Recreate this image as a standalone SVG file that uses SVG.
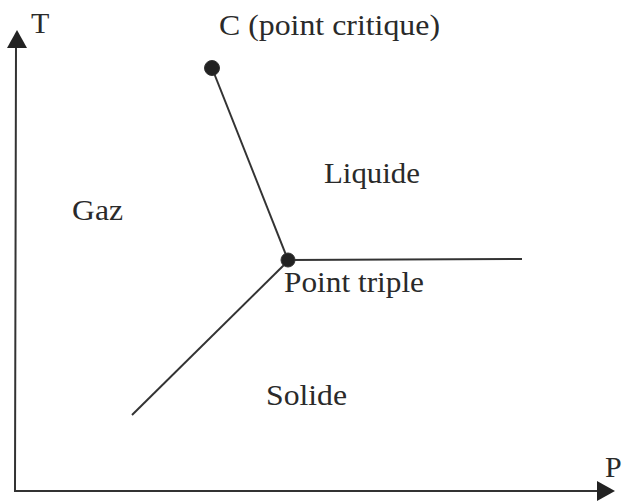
<svg xmlns="http://www.w3.org/2000/svg" width="624" height="502" viewBox="0 0 624 502">
<style>
text{font-family:"Liberation Serif","Times New Roman",serif;font-size:30px;fill:#2a2a2a}
.ln{stroke:#333;stroke-width:2;fill:none}
.ax{stroke:#333;stroke-width:2;fill:none}
.dot{fill:#222;stroke:#333;stroke-width:1}
.ah{fill:#222}
</style>
<rect width="624" height="502" fill="#fff"/>
<g id="axes">
<path class="ax" d="M16,46 L15,491 L598,491"/>
<polygon class="ah" points="17,30 27,48 7,48"/>
<polygon class="ah" points="615,491 597,481 597,501"/>
<text x="31" y="33" font-size="28">T</text>
<text x="605" y="477">P</text>
</g>
<g id="connectors">
<line class="ln" x1="212" y1="68" x2="288" y2="260"/>
<line class="ln" x1="288" y1="260" x2="522" y2="259"/>
<line class="ln" x1="288" y1="261" x2="132" y2="415"/>
</g>
<g id="critical">
<circle class="dot" cx="212" cy="68" r="7.5"/>
<text x="219" y="35" textLength="221" lengthAdjust="spacingAndGlyphs">C (point critique)</text>
</g>
<g id="triple">
<circle class="dot" cx="288" cy="260" r="7"/>
<text x="284" y="292" textLength="140" lengthAdjust="spacingAndGlyphs">Point triple</text>
</g>
<g id="liquide"><text x="324" y="183" textLength="96" lengthAdjust="spacingAndGlyphs">Liquide</text></g>
<g id="gaz"><text x="72" y="220" textLength="51" lengthAdjust="spacingAndGlyphs">Gaz</text></g>
<g id="solide"><text x="266" y="405" textLength="81" lengthAdjust="spacingAndGlyphs">Solide</text></g>
</svg>
